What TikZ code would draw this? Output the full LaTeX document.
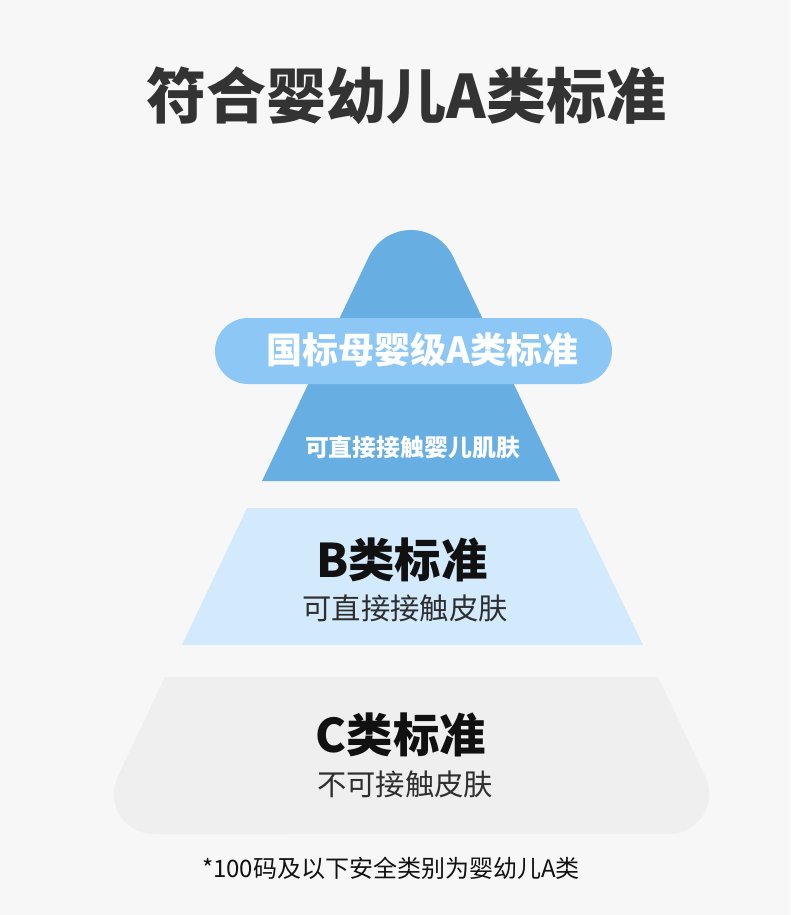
\documentclass[tikz,border=0pt]{standalone}
\usepackage{fontspec}
\setmainfont{Noto Sans CJK SC}
\usepackage{tikz}
\definecolor{bgGray}{HTML}{F7F7F7}
\definecolor{titleGray}{HTML}{333333}
\definecolor{topBlue}{HTML}{67AEE3}
\definecolor{pillBlue}{HTML}{8CC7F6}
\definecolor{midBlue}{HTML}{D2EAFC}
\definecolor{lowGray}{HTML}{EFEFEF}
\definecolor{inkBlack}{HTML}{111111}
\definecolor{inkGray}{HTML}{2E2E2E}

\begin{document}
\begin{tikzpicture}[x=0.75pt,y=-0.75pt,
  tierhead/.style={font=\bfseries\fontsize{34.8}{40}\selectfont, text=inkBlack},
  tiersub/.style={font=\fontsize{22}{26}\selectfont, text=inkGray},
  whitetext/.style={text=white, font=\bfseries}]
% Background
\fill[bgGray] (0,0) rectangle (790,915);
\useasboundingbox (0,0) rectangle (790,915);
% Title
\node[font=\bfseries\fontsize{45}{52}\selectfont, text=titleGray] (title) at (406.5,96) {符合婴幼儿A类标准};
% Top tier, rounded apex
\fill[topBlue] (262,481) -- (368.9,256.6) arc[start angle=205.4, end angle=334.6, radius=46.6] -- (560,481) -- cycle;
% Pill band over top tier
\fill[pillBlue, rounded corners=24.75pt] (215,318) rectangle (612,384);
\node[whitetext, font=\bfseries\fontsize{27}{31}\selectfont] (pilltext) at (422.5,350) {国标母婴级A类标准};
\node[whitetext, font=\bfseries\fontsize{17.9}{21}\selectfont] (topsub) at (412.5,447) {可直接接触婴儿肌肤};
% Middle tier
\fill[midBlue] (247,508) -- (577,508) -- (643,645) -- (182,645) -- cycle;
\node[tierhead] (midhead) at (402,560) {B类标准};
\node[tiersub] (midsub) at (405,608) {可直接接触皮肤};
% Bottom tier, rounded base corners
\fill[lowGray] (165,677) -- (658,677) -- (705.3,776.8) arc[start angle=-25.4, end angle=90, radius=40]
  -- (153.8,834) arc[start angle=90, end angle=205.4, radius=40] -- cycle;
\node[tierhead] (lowhead) at (401,735) {C类标准};
\node[tiersub] (lowsub) at (405,784) {不可接触皮肤};
% Footnote
\node[font=\fontsize{18}{22}\selectfont, text=inkBlack] (note) at (391,868) {*100码及以下安全类别为婴幼儿A类};
\end{tikzpicture}
\end{document}
